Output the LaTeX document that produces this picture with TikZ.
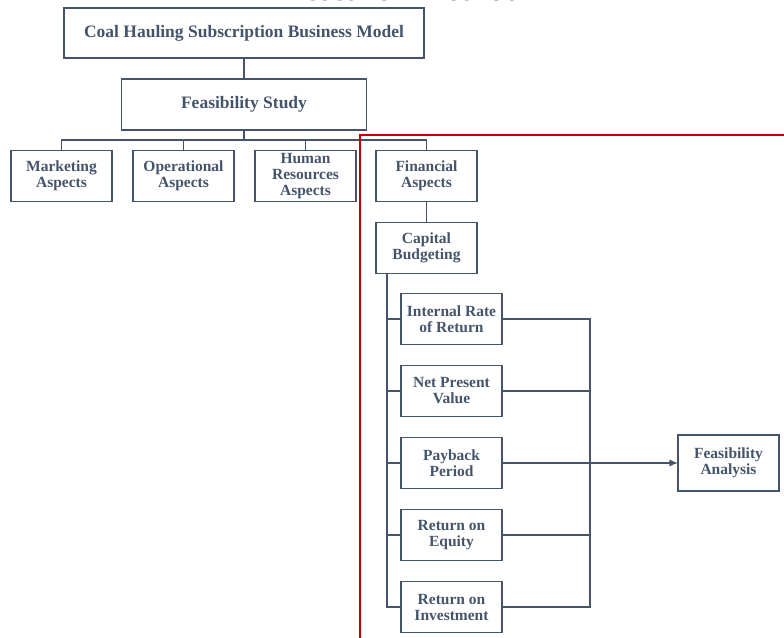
\documentclass[tikz,border=0pt]{standalone}
\usepackage{fontspec}
\setmainfont{Liberation Serif}
\usetikzlibrary{arrows.meta, positioning}

\definecolor{slate}{RGB}{68,84,106}
\definecolor{frame}{RGB}{192,0,0}

\begin{document}
\begin{tikzpicture}[
  x=1pt, y=-1pt,
  block/.style={rectangle, draw=slate, line width=1.5pt, text=slate,
    font=\fontsize{15.5}{16}\selectfont\bfseries, align=center,
    minimum width=101pt, minimum height=51pt, inner sep=2pt, outer sep=0pt},
  wide/.style={block, font=\fontsize{17.5}{19}\selectfont\bfseries},
  link/.style={draw=slate, line width=1.6pt},
  arrow/.style={link, line width=2pt, -{Latex[length=3mm, width=2.6mm]}}
]
\clip (0,0) rectangle (784,637);

% title, cut by the top edge
\node[anchor=base, font=\fontsize{32}{34}\selectfont\bfseries] (title) at (402,1) {Research Method};

% top of the tree
\node[wide, minimum width=360pt, minimum height=50pt] (model) at (244,33) {Coal Hauling Subscription Business Model};
\node[wide, minimum width=245pt, below=21pt of model] (study) {Feasibility Study};

\node[block] (mkt) at (61.5,176) {Marketing\\Aspects};
\node[block, right=21pt of mkt] (ops) {Operational\\Aspects};
\node[block, right=21pt of ops] (hum) {Human\\Resources\\Aspects};
\node[block, right=20pt of hum] (fin) {Financial\\Aspects};

% financial branch
\node[block, below=21pt of fin] (cap) {Capital\\Budgeting};
\node[block, below=20pt of cap, xshift=25pt] (irr) {Internal Rate\\of Return};
\node[block, below=21pt of irr] (npv) {Net Present\\Value};
\node[block, below=21pt of npv] (pay) {Payback\\Period};
\node[block, below=21pt of pay] (roe) {Return on\\Equity};
\node[block, below=21pt of roe] (roi) {Return on\\Investment};
\node[block, minimum height=56pt, right=176pt of pay] (fa) {Feasibility\\Analysis};

\draw[link] (model) -- (study);
\draw[link] (study.south) -- ++(0,-10pt) coordinate (hb);
\draw[link] (mkt.north) |- (hb) -| (fin.north);
\draw[link] (ops.north) -- (ops.north |- hb);
\draw[link] (hum.north) -- (hum.north |- hb);
\draw[link] (fin) -- (cap);

\coordinate (sp) at ([xshift=11pt]cap.south west);
\draw[link] (sp) |- (roi.west);
\foreach \n in {irr,npv,pay,roe}
  \draw[link] (sp |- \n.west) -- (\n.west);

\coordinate (bus) at ([xshift=88pt]irr.east);
\draw[link] (irr.east) -- (bus) |- (roi.east);
\foreach \n in {npv,roe}
  \draw[link] (\n.east) -- (bus |- \n.east);
\draw[arrow] (pay) -- (fa);

% red frame round the financial part
\draw[frame, line width=2.5pt] (360,640) |- (790,135);
\end{tikzpicture}
\end{document}
